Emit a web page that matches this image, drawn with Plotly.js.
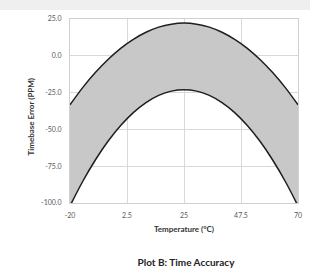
<!DOCTYPE html>
<html>
<head>
<meta charset="utf-8">
<script src="https://cdn.plot.ly/plotly-3.0.1.min.js"></script>
<style>
  html, body { margin: 0; padding: 0; background: #efefef; }
  #chart { position: absolute; left: 0; top: 10px; width: 310px; height: 259px; background: #fff; }
</style>
</head>
<body>
<div id="chart"></div>
<script>
// Temperature (°C)
const temperature = [-20, -15, -10, -5, 0, 5, 10, 15, 20, 25, 30, 35, 40, 45, 50, 55, 60, 65, 70];
// Upper bound of timebase error (PPM)
const upperError = [-33.3, -21.6, -11.4, -2.5, 5.1, 11.2, 16.0, 19.5, 21.5, 22.2, 21.5, 19.5, 16.0, 11.2, 5.1, -2.5, -11.4, -21.6, -33.3];
// Lower bound of timebase error (PPM)
const lowerError = [-102.0, -85.4, -70.8, -58.1, -47.4, -38.6, -31.8, -26.9, -24.0, -23.0, -24.0, -26.9, -31.8, -38.6, -47.4, -58.1, -70.8, -85.4, -102.0];

const xTickVals = [-20, 2.5, 25, 47.5, 70];
const xTickText = ['-20', '2.5', '25', '47.5', '70'];
const yTickVals = [25, 0, -25, -50, -75, -100];
const yTickText = ['25.0', '0.0', '-25.0', '-50.0', '-75.0', '-100.0'];

const FONT = 'Lato, "Liberation Sans", sans-serif';

const traces = [
  {
    x: temperature, y: lowerError, type: 'scatter', mode: 'lines',
    line: { color: '#1e1e1e', width: 1.5, shape: 'spline' },
    hoverinfo: 'skip', showlegend: false
  },
  {
    x: temperature, y: upperError, type: 'scatter', mode: 'lines',
    line: { color: '#1e1e1e', width: 1.5, shape: 'spline' },
    fill: 'tonexty', fillcolor: '#c8c8c8',
    hoverinfo: 'skip', showlegend: false
  }
];

const layout = {
  width: 310, height: 259,
  margin: { l: 70, r: 12, t: 9, b: 66 },
  paper_bgcolor: '#ffffff', plot_bgcolor: '#ffffff',
  font: { family: FONT, size: 7, color: '#595959' },
  showlegend: false,
  title: {
    text: '<b>Plot B: Time Accuracy</b>',
    font: { family: FONT, size: 10, color: '#222222' },
    xref: 'container', yref: 'container',
    x: 0.6, y: 0.027, xanchor: 'center', yanchor: 'middle'
  },
  xaxis: {
    range: [-20, 70],
    tickvals: xTickVals, ticktext: xTickText,
    showgrid: true, gridcolor: '#d9d9d9', gridwidth: 1,
    zeroline: false,
    showline: true, linecolor: '#d0d0d0', mirror: true,
    ticks: 'outside', ticklen: 6, tickcolor: 'rgba(0,0,0,0)',
    tickfont: { family: FONT, size: 7, color: '#595959' },
    title: { text: '<b>Temperature (°C)</b>', font: { family: FONT, size: 8, color: '#333333' }, standoff: 7 },
    fixedrange: true
  },
  yaxis: {
    range: [-100, 25],
    tickvals: yTickVals, ticktext: yTickText,
    showgrid: true, gridcolor: '#d9d9d9', gridwidth: 1,
    zeroline: false,
    showline: true, linecolor: '#d0d0d0', mirror: true,
    ticks: 'outside', ticklen: 6, tickcolor: 'rgba(0,0,0,0)',
    tickfont: { family: FONT, size: 7, color: '#595959' },
    fixedrange: true
  },
  annotations: [
    {
      text: '<b>Timebase Error (PPM)</b>',
      font: { family: FONT, size: 8, color: '#333333' },
      xref: 'paper', yref: 'paper',
      x: -0.175, y: 0.47, xanchor: 'center', yanchor: 'middle',
      textangle: -90, showarrow: false
    }
  ]
};

Plotly.newPlot('chart', traces, layout, { displayModeBar: false, staticPlot: true });
</script>
</body>
</html>
